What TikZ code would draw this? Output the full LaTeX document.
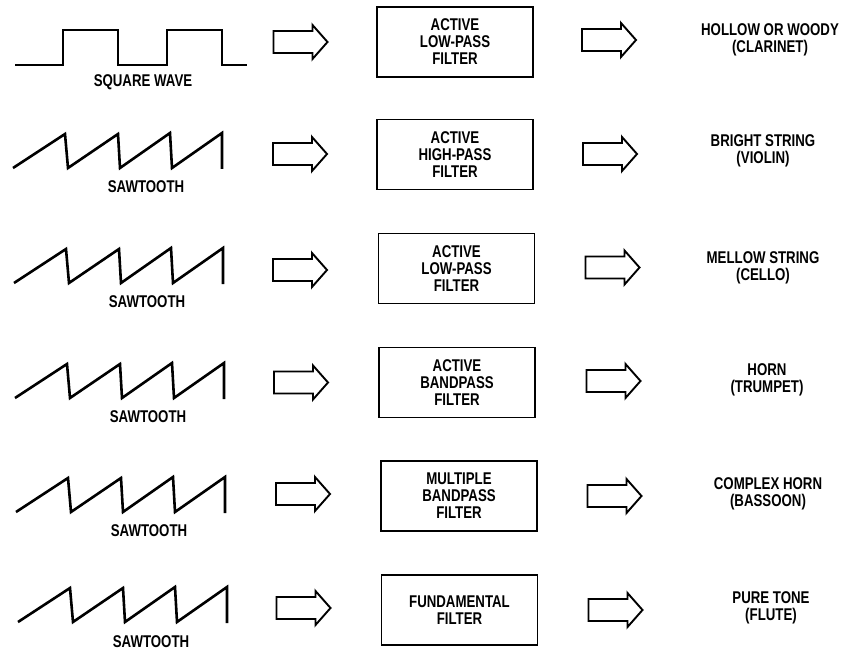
\documentclass[tikz,border=0pt]{standalone}
\usepackage{fontspec}
\newfontfamily\lblfont{Liberation Sans}[FakeStretch=0.78]
\tikzset{
  wave/.style={line width=2.6pt, line join=miter},
  filterbox/.style={draw, line width=1.9pt, minimum width=156pt, minimum height=70pt, inner sep=0pt, align=center,
    font=\lblfont\bfseries\fontsize{17}{17}\selectfont},
  lbl/.style={align=center, inner sep=0pt, font=\lblfont\bfseries\fontsize{17}{17}\selectfont},
  blockarrow/.pic={
    \draw[line width=1.9pt, line join=miter] (-27,-11) -- (12,-11) -- (12,-17) -- (27,0) -- (12,17) -- (12,11) -- (-27,11) -- cycle;
  },
  sawtooth/.pic={
    \draw[wave] (0,0) -- (52,-34) -- (55,0) -- (105,-34) -- (107,0) -- (157,-35) -- (159,0) -- (209,-35) -- (209,1);
  }
}
\begin{document}
\begin{tikzpicture}[x=1pt,y=-1pt]
\useasboundingbox (0,0) rectangle (848,652);

% Row 1
\draw[wave] (15,65) -- (63,65) -- (63,30) -- (118,30) -- (118,65) -- (167,65) -- (167,30) -- (222,30) -- (222,65) -- (247,65);
\node[lbl] (w1) at (143,82) {SQUARE WAVE};
\pic (a1) at (300.5,42) {blockarrow};
\node[filterbox] (f1) at (455,42) {ACTIVE\\LOW-PASS\\FILTER};
\pic (b1) at (609,40) {blockarrow};
\node[lbl] (t1) at (770,40) {HOLLOW OR WOODY\\(CLARINET)};

% Row 2
\pic (s2) at (13,168) {sawtooth};
\node[lbl] (w2) at (146,187) {SAWTOOTH};
\pic (a2) at (300,154) {blockarrow};
\node[filterbox] (f2) at (455,154.5) {ACTIVE\\HIGH-PASS\\FILTER};
\pic (b2) at (610,154) {blockarrow};
\node[lbl] (t2) at (763,151) {BRIGHT STRING\\(VIOLIN)};

% Row 3
\pic (s3) at (14,283) {sawtooth};
\node[lbl] (w3) at (147,302) {SAWTOOTH};
\pic (a3) at (300,270) {blockarrow};
\node[filterbox] (f3) at (456.5,268.5) {ACTIVE\\LOW-PASS\\FILTER};
\pic (b3) at (612.5,267.5) {blockarrow};
\node[lbl] (t3) at (763,268) {MELLOW STRING\\(CELLO)};

% Row 4
\pic (s4) at (15,398) {sawtooth};
\node[lbl] (w4) at (148,417) {SAWTOOTH};
\pic (a4) at (301,382.5) {blockarrow};
\node[filterbox] (f4) at (457,382.5) {ACTIVE\\BANDPASS\\FILTER};
\pic (b4) at (613.5,381) {blockarrow};
\node[lbl] (t4) at (767,380) {HORN\\(TRUMPET)};

% Row 5
\pic (s5) at (16,512) {sawtooth};
\node[lbl] (w5) at (149,531) {SAWTOOTH};
\pic (a5) at (303,494) {blockarrow};
\node[filterbox] (f5) at (459,496) {MULTIPLE\\BANDPASS\\FILTER};
\pic (b5) at (614.5,496) {blockarrow};
\node[lbl] (t5) at (768,494) {COMPLEX HORN\\(BASSOON)};

% Row 6
\pic (s6) at (18,622) {sawtooth};
\node[lbl] (w6) at (151,642) {SAWTOOTH};
\pic (a6) at (303.5,608) {blockarrow};
\node[filterbox] (f6) at (459.5,610) {FUNDAMENTAL\\FILTER};
\pic (b6) at (615.5,610) {blockarrow};
\node[lbl] (t6) at (771,608) {PURE TONE\\(FLUTE)};
\end{tikzpicture}
\end{document}
